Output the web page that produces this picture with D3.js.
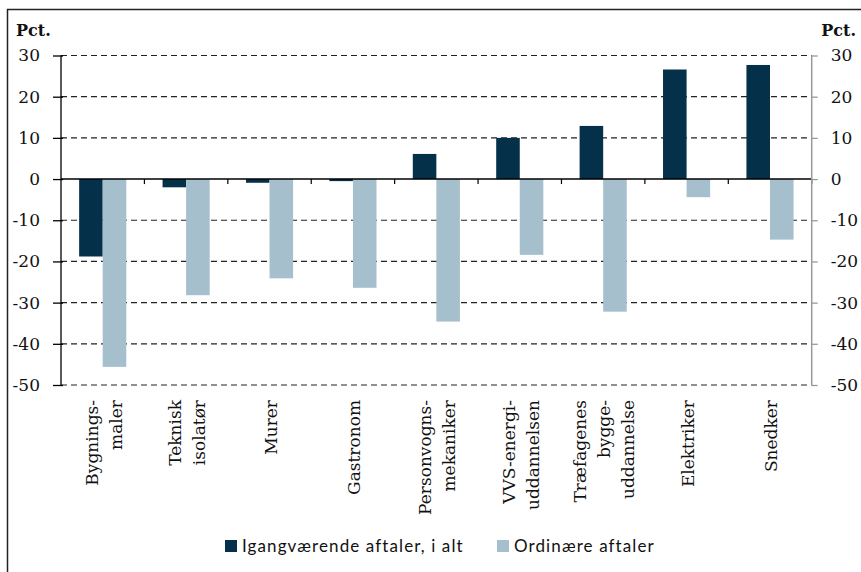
<!DOCTYPE html>
<html>
<head>
<meta charset="utf-8">
<script src="https://cdn.jsdelivr.net/npm/d3@7"></script>
<style>
  body { margin: 0; background: #fff; }
  svg { display: block; }
</style>
</head>
<body>
<svg id="chart" width="861" height="572"></svg>
<script>
// categories (lines of each rotated label)
const categories = ["Bygningsmaler", "Teknisk isolatør", "Murer", "Gastronom", "Personvognsmekaniker",
  "VVS-energiuddannelsen", "Træfagenes bygge-uddannelse", "Elektriker", "Snedker"];
const labelLines = [
  ["Bygnings-", "maler"],
  ["Teknisk", "isolatør"],
  ["Murer"],
  ["Gastronom"],
  ["Personvogns-", "mekaniker"],
  ["VVS-energi-", "uddannelsen"],
  ["Træfagenes", "bygge-", "uddannelse"],
  ["Elektriker"],
  ["Snedker"]
];
const seriesNames = ["Igangværende aftaler, i alt", "Ordinære aftaler"];
const igangvaerende = [-18.8, -2.0, -0.9, -0.5, 6.1, 10.0, 12.9, 26.6, 27.7];
const ordinaere = [-45.6, -28.2, -24.1, -26.4, -34.6, -18.4, -32.2, -4.4, -14.7];
const yTicks = [30, 20, 10, 0, -10, -20, -30, -40, -50];
const colors = ["#05304a", "#a5bfcd"];

const svg = d3.select("#chart");
const plotLeft = 61, plotRight = 811.7, plotTop = 55.5, plotBottom = 385;

// frame
svg.append("path")
  .attr("d", "M7.5,572 L7.5,9.5 L861,9.5")
  .attr("fill", "none")
  .attr("stroke", "#222")
  .attr("stroke-width", 1.5);

const x = d3.scaleBand().domain(categories).range([plotLeft, plotRight]).padding(0);
const x1 = d3.scaleBand().domain(seriesNames).range([0, x.bandwidth()])
  .paddingInner(0).paddingOuter(0.77);
const y = d3.scaleLinear().domain([-50, 30]).range([plotBottom, plotTop]);

// dashed grid
svg.append("g")
  .selectAll("line")
  .data(yTicks.filter(d => d !== 0))
  .join("line")
  .attr("x1", plotLeft).attr("x2", plotRight)
  .attr("y1", d => y(d)).attr("y2", d => y(d))
  .attr("stroke", "#222")
  .attr("stroke-width", 1.2)
  .attr("stroke-dasharray", "6,4");

// bars
const rows = categories.map((c, i) => ({ cat: c, vals: [igangvaerende[i], ordinaere[i]] }));
svg.append("g")
  .selectAll("g")
  .data(rows)
  .join("g")
  .attr("transform", d => `translate(${x(d.cat)},0)`)
  .selectAll("rect")
  .data(d => d.vals.map((v, j) => ({ s: seriesNames[j], v, j })))
  .join("rect")
  .attr("x", d => x1(d.s))
  .attr("width", x1.bandwidth())
  .attr("y", d => y(Math.max(0, d.v)))
  .attr("height", d => Math.abs(y(d.v) - y(0)))
  .attr("fill", d => colors[d.j]);

// zero line with category ticks
svg.append("line")
  .attr("x1", plotLeft).attr("x2", plotRight)
  .attr("y1", y(0)).attr("y2", y(0))
  .attr("stroke", "#000").attr("stroke-width", 1.5);
svg.append("g")
  .selectAll("line")
  .data(categories.slice(1).concat(["end"]))
  .join("line")
  .attr("x1", d => d === "end" ? plotRight : x(d))
  .attr("x2", d => d === "end" ? plotRight : x(d))
  .attr("y1", y(0)).attr("y2", y(0) + 5)
  .attr("stroke", "#000").attr("stroke-width", 1.2);

// plain hyphen minus, as in the original
const fmt = d => String(d);

// left axis
const yAxisL = d3.axisLeft(y).tickValues(yTicks).tickSize(8).tickPadding(14).tickFormat(fmt);
const gL = svg.append("g").attr("transform", `translate(${plotLeft},0)`).call(yAxisL);
gL.select(".domain").attr("stroke", "#000").attr("stroke-width", 1.3).attr("d", `M0,${plotTop}V${plotBottom}`);
gL.selectAll(".tick line").attr("x1", 2).attr("x2", -8).attr("stroke", "#000").attr("stroke-width", 1.3);
gL.selectAll(".tick text")
  .attr("x", -21)
  .attr("font-family", "DejaVu Serif")
  .attr("font-size", 17)
  .attr("fill", "#111");

// right axis
const yAxisR = d3.axisRight(y).tickValues(yTicks).tickSize(6).tickPadding(14).tickFormat(fmt);
const gR = svg.append("g").attr("transform", `translate(${plotRight},0)`).call(yAxisR);
gR.select(".domain").attr("stroke", "#999").attr("stroke-width", 1.5).attr("d", `M0,${plotTop}V${plotBottom}`);
gR.selectAll(".tick line").attr("stroke", "#999").attr("stroke-width", 1.3);
gR.selectAll(".tick text")
  .attr("x", 19)
  .attr("font-family", "DejaVu Serif")
  .attr("font-size", 17)
  .attr("fill", "#111");

// unit labels
svg.append("text").attr("x", 16).attr("y", 36).text("Pct.")
  .attr("font-family", "DejaVu Serif").attr("font-weight", "bold").attr("font-size", 16).attr("fill", "#111");
svg.append("text").attr("x", 856).attr("y", 36).attr("text-anchor", "end").text("Pct.")
  .attr("font-family", "DejaVu Serif").attr("font-weight", "bold").attr("font-size", 16).attr("fill", "#111");

// rotated category labels
const lineStep = 24;
categories.forEach((c, i) => {
  const lines = labelLines[i];
  const cx = x(c) + x.bandwidth() / 2;
  lines.forEach((ln, k) => {
    const bx = cx + (k - (lines.length - 1) / 2) * lineStep + 7;
    svg.append("text")
      .attr("transform", `translate(${bx},400) rotate(-90)`)
      .attr("text-anchor", "end")
      .attr("font-family", "DejaVu Serif")
      .attr("font-size", 17)
      .attr("fill", "#111")
      .text(ln);
  });
});

// legend
const legendX = [225, 497];
const legend = svg.append("g");
seriesNames.forEach((s, i) => {
  legend.append("rect")
    .attr("x", legendX[i]).attr("y", 540)
    .attr("width", 12).attr("height", 12)
    .attr("fill", colors[i]);
  legend.append("text")
    .attr("x", legendX[i] + 17).attr("y", 552)
    .attr("font-family", "Lato")
    .attr("font-size", 17)
    .attr("letter-spacing", 1.1)
    .attr("fill", "#111")
    .text(s);
});
</script>
</body>
</html>
